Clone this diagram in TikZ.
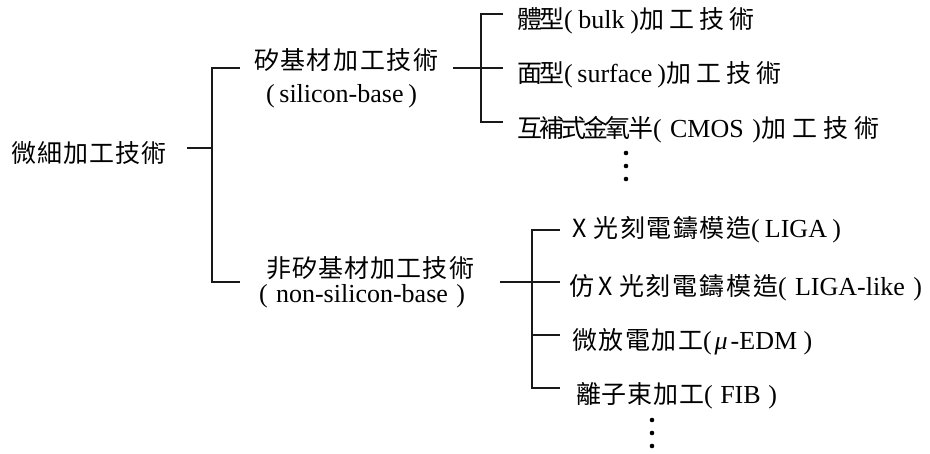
\documentclass[tikz,border=0pt]{standalone}
\usepackage{fontspec}
\setmainfont{Liberation Serif}
\newfontfamily\cjk[Scale=0.96]{Noto Sans CJK TC}
\makeatletter
\newcommand\cjkbox[2]{\makebox[#1pt][s]{\cjk\def\cjk@sep{}\@tfor\cjk@tok:=#2\do{\cjk@sep\cjk@tok\def\cjk@sep{\hskip 0pt plus 1fil minus 1fil}}}}
\makeatother
\newcommand\latbox[2]{\makebox[#1pt][s]{#2}}
\tikzset{
  lbl/.style={anchor=base west, inner sep=0pt, outer sep=0pt, font=\fontsize{26}{30}\selectfont, text=black},
  conn/.style={line width=1.2pt, draw=black!90},
  dotmark/.style={circle, fill=black, inner sep=0pt, minimum size=4.6pt},
}
\begin{document}
\begin{tikzpicture}[x=1pt,y=-1pt]
\useasboundingbox (0,0) rectangle (930,454);
% labels
\node[lbl] (root) at (12,163) {\cjkbox{154}{微細加工技術}};
\node[lbl] (si) at (254,70) {\cjkbox{184}{矽基材加工技術}};
\node[lbl] (sien) at (266,103) {\latbox{151}{( silicon-base )}};
\node[lbl] (nsi) at (266,278) {\cjkbox{208}{非矽基材加工技術}};
\node[lbl] (nsien) at (259,303) {\latbox{206}{( non-silicon-base )}};
\node[lbl] (c1) at (517,29) {\cjkbox{47}{體型}\latbox{75}{( bulk )}\cjkbox{115}{加工技術}};
\node[lbl] (c2) at (517,83) {\cjkbox{47}{面型}\latbox{102}{( surface )}\cjkbox{115}{加工技術}};
\node[lbl] (c3) at (517,138) {\cjkbox{136}{互補式金氧半}\latbox{108}{( CMOS )}\cjkbox{118}{加工技術}};
\node[lbl] (d1) at (572,238) {\makebox[22pt][l]{\cjk X}\cjkbox{157}{光刻電鑄模造}\latbox{90}{( LIGA )}};
\node[lbl] (d2) at (569,296) {\makebox[24pt][l]{\cjk 仿}\makebox[26pt][c]{\cjk X}\cjkbox{159}{光刻電鑄模造}\latbox{144}{( LIGA-like )}};
\node[lbl] (d3) at (572,350) {\cjkbox{131}{微放電加工}(\hspace{3pt}{\itshape μ}\hspace{3pt}-EDM )};
\node[lbl] (d4) at (576,404) {\cjkbox{128}{離子束加工}\latbox{73}{( FIB )}};
% dots
\node[dotmark] (ta) at (626,153) {};
\node[dotmark] (tb) at (626,166) {};
\node[dotmark] (tc) at (626,179) {};
\node[dotmark] (ba) at (652,420) {};
\node[dotmark] (bb) at (652,433) {};
\node[dotmark] (bc) at (652,446) {};
% connector points
\coordinate (r0) at (187,148);
\coordinate (r1) at (212,148);
\coordinate (t0) at (240,68);
\coordinate (b0) at (240,282);
\coordinate (s0) at (453,68);
\coordinate (sj) at (481,68);
\coordinate (e1) at (503,14);
\coordinate (e2) at (503,68);
\coordinate (e3) at (503,122);
\coordinate (n0) at (500,282);
\coordinate (nj) at (532,282);
\coordinate (f1) at (560,230);
\coordinate (f2) at (560,282);
\coordinate (f3) at (560,335);
\coordinate (f4) at (560,388);
% connectors
\draw[conn] (r0) -- (r1);
\draw[conn] (t0) -| (r1) |- (b0);
\draw[conn] (s0) -- (e2);
\draw[conn] (e1) -| (sj) |- (e3);
\draw[conn] (n0) -- (f2);
\draw[conn] (f1) -| (nj) |- (f4);
\draw[conn] (f3) -- (f3 -| nj);
\end{tikzpicture}
\end{document}
